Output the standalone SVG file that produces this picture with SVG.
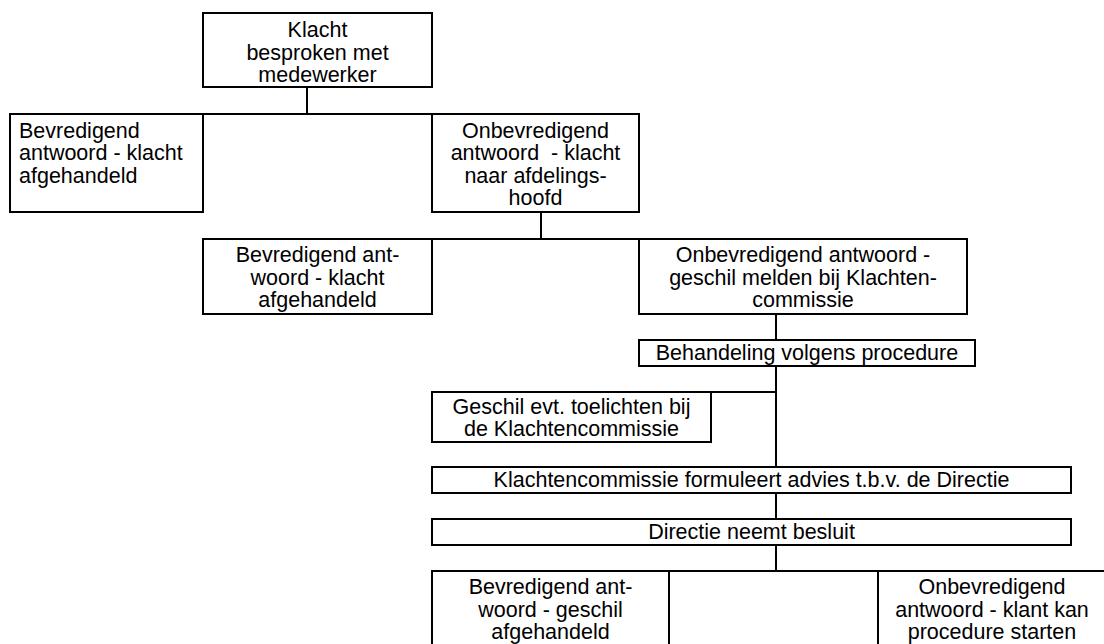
<svg xmlns="http://www.w3.org/2000/svg" width="1104" height="644" viewBox="0 0 1104 644">
<style>
rect.b{fill:#fff;stroke:#000;stroke-width:2}
.c line{stroke:#000;stroke-width:2}
text{font-family:"Liberation Sans",Arial,sans-serif;font-size:21.5px;fill:#000;text-anchor:middle}
text.l{text-anchor:start}
</style>
<rect width="1104" height="644" fill="#fff"/>
<g id="connectors" class="c">
<line x1="307" y1="87" x2="307" y2="114"/>
<line x1="10" y1="114" x2="639" y2="114"/>
<line x1="541" y1="212" x2="541" y2="239"/>
<line x1="203" y1="239" x2="967" y2="239"/>
<line x1="776" y1="314" x2="776" y2="340"/>
<line x1="776" y1="366" x2="776" y2="467"/>
<line x1="432" y1="392" x2="776" y2="392"/>
<line x1="776" y1="493" x2="776" y2="519"/>
<line x1="776" y1="545" x2="776" y2="571"/>
<line x1="432" y1="571" x2="1104" y2="571"/>
</g>
<g id="n1"><rect class="b" x="203" y="13" width="229" height="74"/>
<text><tspan x="317.5" y="37">Klacht</tspan><tspan x="317.5" y="59.5">besproken met</tspan><tspan x="317.5" y="82">medewerker</tspan></text></g>
<g id="n2"><rect class="b" x="10" y="114" width="193" height="98"/>
<text class="l"><tspan x="19" y="137.5">Bevredigend</tspan><tspan x="19" y="160">antwoord - klacht</tspan><tspan x="19" y="182.5">afgehandeld</tspan></text></g>
<g id="n3"><rect class="b" x="432" y="114" width="207" height="98"/>
<text xml:space="preserve"><tspan x="535.5" y="137.5">Onbevredigend</tspan><tspan x="535.5" y="160">antwoord  - klacht</tspan><tspan x="535.5" y="182.5">naar afdelings-</tspan><tspan x="535.5" y="205">hoofd</tspan></text></g>
<g id="n4"><rect class="b" x="203" y="239" width="229" height="75"/>
<text><tspan x="317.5" y="262">Bevredigend ant-</tspan><tspan x="317.5" y="284.5">woord - klacht</tspan><tspan x="317.5" y="307">afgehandeld</tspan></text></g>
<g id="n5"><rect class="b" x="639" y="239" width="328" height="75"/>
<text><tspan x="803" y="262">Onbevredigend antwoord -</tspan><tspan x="803" y="284.5">geschil melden bij Klachten-</tspan><tspan x="803" y="307">commissie</tspan></text></g>
<g id="n6"><rect class="b" x="639" y="340" width="336" height="26"/>
<text><tspan x="807" y="359.5">Behandeling volgens procedure</tspan></text></g>
<g id="n7"><rect class="b" x="432" y="392" width="279" height="50"/>
<text><tspan x="571.5" y="413.5">Geschil evt. toelichten bij</tspan><tspan x="571.5" y="435.5">de Klachtencommissie</tspan></text></g>
<g id="n8"><rect class="b" x="432" y="467" width="639" height="26"/>
<text><tspan x="751.5" y="486.5">Klachtencommissie formuleert advies t.b.v. de Directie</tspan></text></g>
<g id="n9"><rect class="b" x="432" y="519" width="639" height="26"/>
<text><tspan x="751.5" y="538.5">Directie neemt besluit</tspan></text></g>
<g id="n10"><rect class="b" x="432" y="571" width="237" height="90"/>
<text><tspan x="550.5" y="594">Bevredigend ant-</tspan><tspan x="550.5" y="616.5">woord - geschil</tspan><tspan x="550.5" y="639">afgehandeld</tspan></text></g>
<g id="n11"><rect class="b" x="878" y="571" width="230" height="90"/>
<text><tspan x="992" y="594">Onbevredigend</tspan><tspan x="992" y="616.5">antwoord - klant kan</tspan><tspan x="992" y="639">procedure starten</tspan></text></g>
</svg>
